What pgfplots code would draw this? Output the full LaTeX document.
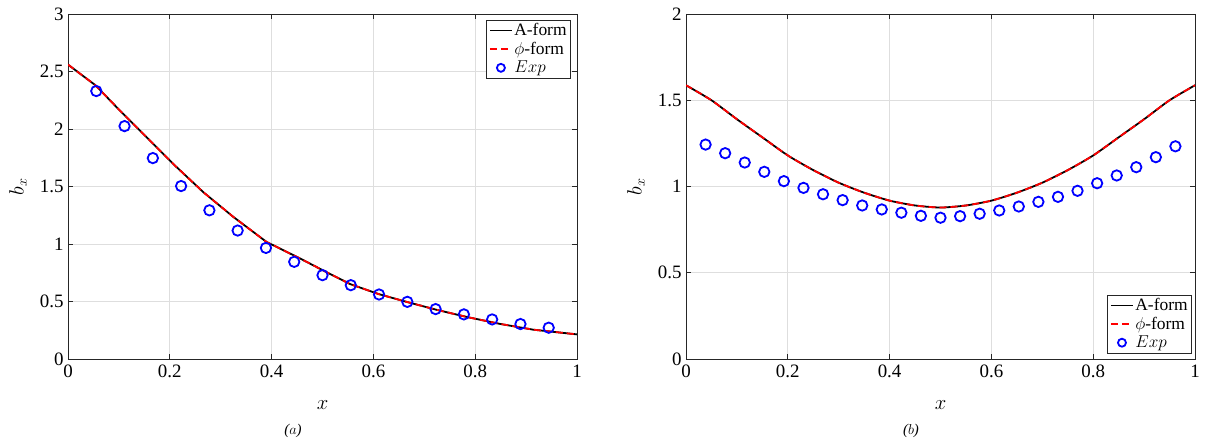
\documentclass[border=0pt]{standalone}
\usepackage{fontspec}
\setmainfont{Liberation Serif}
\usepackage{pgfplots}
\pgfplotsset{compat=1.18}
\definecolor{axgray}{RGB}{38,38,38}
\definecolor{gridgray}{RGB}{222,222,222}
\definecolor{mblue}{RGB}{0,0,255}
\definecolor{mred}{RGB}{255,0,0}

\pgfplotsset{
  mstyle/.style={
    scale only axis, width=509bp, height=345bp,
    xmin=0, xmax=1, xtick={0,0.2,0.4,0.6,0.8,1},
    grid=major, grid style={gridgray, line width=0.8bp},
    axis line style={axgray, line width=0.9bp},
    tick style={axgray, line width=0.9bp},
    major tick length=5bp, tick align=inside,
    ticklabel style={font=\fontsize{19}{20}\selectfont, text=black},
    /pgf/number format/assume math mode=true,
    xticklabel style={yshift=-2bp},
    yticklabel style={xshift=-1bp},
    xlabel={$x$}, ylabel={$b_x$},
    label style={font=\fontsize{21}{22}\selectfont},
    xlabel style={at={(axis description cs:0.5,-0.133)}, anchor=center},
    ylabel style={at={(axis description cs:-0.098,0.5)}, anchor=center},
    legend cell align=left,
    legend style={draw=axgray, line width=0.6bp, fill=white,
      font=\fontsize{17.5}{19}\selectfont, inner xsep=2.5bp, inner ysep=2bp,
      row sep=2bp, nodes={inner sep=1.5bp}},
    legend image code/.code={\draw[##1, line width=1.8bp] (0bp,0bp) -- (22bp,0bp);},
  },
  aform/.style={black, line width=1.8bp, no marks},
  pform/.style={mred, line width=1.8bp, no marks, dash pattern=on 7bp off 4bp},
  expst/.style={only marks, mblue, mark=o, mark size=5.2bp, mark options={line width=1.8bp},
    legend image code/.code={\draw[mark repeat=1,mark phase=1, mark size=4bp, ##1] plot coordinates {(11bp,0bp)};}},
}

\begin{document}
\begin{tikzpicture}
\path (0,0) rectangle (1205bp,444bp);

% ---------- (a) ----------
\begin{axis}[mstyle, at={(68bp,85bp)}, anchor=south west,
  ymin=0, ymax=3, ytick={0,0.5,1,1.5,2,2.5,3},
  legend style={at={(axis description cs:0.988,0.983)}, anchor=north east}]
\addplot[aform] coordinates {
(0,2.56) (0.054,2.38) (0.102,2.16) (0.161,1.90) (0.213,1.67) (0.266,1.45)
(0.325,1.235) (0.390,1.018) (0.456,0.874) (0.50,0.773) (0.554,0.652)
(0.610,0.565) (0.665,0.497) (0.724,0.428) (0.783,0.366) (0.849,0.305)
(0.914,0.255) (1.0,0.214)};
\addlegendentry{A-form}
\addplot[pform] coordinates {
(0,2.56) (0.054,2.38) (0.102,2.16) (0.161,1.90) (0.213,1.67) (0.266,1.45)
(0.325,1.235) (0.390,1.018) (0.456,0.874) (0.50,0.773) (0.554,0.652)
(0.610,0.565) (0.665,0.497) (0.724,0.428) (0.783,0.366) (0.849,0.305)
(0.914,0.255) (1.0,0.214)};
\addlegendentry{$\phi$-form}
\addplot[expst] coordinates {
(0.0556,2.33) (0.1111,2.025) (0.1667,1.747) (0.2222,1.504) (0.2778,1.293)
(0.3333,1.117) (0.3889,0.966) (0.4444,0.845) (0.5,0.729) (0.5556,0.642)
(0.6111,0.561) (0.6667,0.497) (0.7222,0.434) (0.7778,0.388) (0.8333,0.344)
(0.8889,0.304) (0.9444,0.272)};
\addlegendentry{$Exp$}
\end{axis}

% ---------- (b) ----------
\begin{axis}[mstyle, at={(686bp,85bp)}, anchor=south west,
  ymin=0, ymax=2, ytick={0,0.5,1,1.5,2},
  legend style={at={(axis description cs:0.994,0.017)}, anchor=south east}]
\addplot[aform, smooth, tension=0.4] coordinates {
(0,1.587) (0.05,1.50) (0.1,1.39) (0.15,1.285) (0.2,1.18) (0.25,1.095)
(0.3,1.022) (0.35,0.964) (0.4,0.918) (0.45,0.89) (0.5,0.878)
(0.55,0.89) (0.6,0.918) (0.65,0.964) (0.7,1.022) (0.75,1.095) (0.8,1.18)
(0.85,1.285) (0.9,1.39) (0.95,1.50) (1,1.587)};
\addlegendentry{A-form}
\addplot[pform, smooth, tension=0.4] coordinates {
(0,1.587) (0.05,1.50) (0.1,1.39) (0.15,1.285) (0.2,1.18) (0.25,1.095)
(0.3,1.022) (0.35,0.964) (0.4,0.918) (0.45,0.89) (0.5,0.878)
(0.55,0.89) (0.6,0.918) (0.65,0.964) (0.7,1.022) (0.75,1.095) (0.8,1.18)
(0.85,1.285) (0.9,1.39) (0.95,1.50) (1,1.587)};
\addlegendentry{$\phi$-form}
\addplot[expst] coordinates {
(0.0385,1.243) (0.0769,1.193) (0.1154,1.139) (0.1538,1.085) (0.1923,1.031)
(0.2308,0.992) (0.2692,0.955) (0.3077,0.921) (0.3462,0.890) (0.3846,0.867)
(0.4231,0.848) (0.4615,0.830) (0.5,0.819) (0.5385,0.828) (0.5769,0.842)
(0.6154,0.861) (0.6538,0.884) (0.6923,0.911) (0.7308,0.940) (0.7692,0.975)
(0.8077,1.019) (0.8462,1.064) (0.8846,1.112) (0.9231,1.170) (0.9615,1.233)};
\addlegendentry{$Exp$}
\end{axis}

\node[font=\itshape\fontsize{15}{16}\selectfont] at (293bp,13bp) {($a$)};
\node[font=\itshape\fontsize{15}{16}\selectfont] at (911bp,13bp) {($b$)};
\end{tikzpicture}
\end{document}
